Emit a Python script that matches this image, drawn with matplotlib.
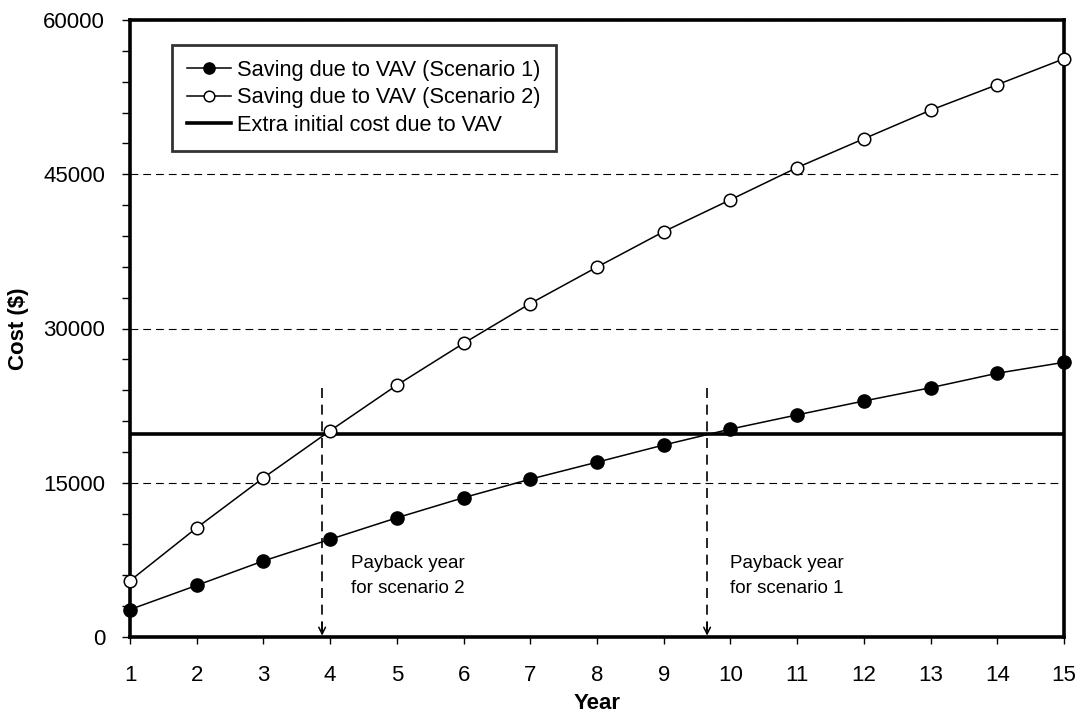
import matplotlib
matplotlib.use("Agg")
import matplotlib.pyplot as plt
from matplotlib.ticker import MultipleLocator

plt.rcParams['font.family'] = ['Liberation Sans', 'DejaVu Sans']

years = list(range(1, 16))
saving_s1 = [2670, 5020, 7400, 9500, 11590, 13550, 15350, 17000,
             18670, 20220, 21600, 22950, 24240, 25650, 26710]
saving_s2 = [5470, 10620, 15480, 20060, 24490, 28560, 32430, 35970,
             39420, 42520, 45650, 48450, 51230, 53710, 56230]
extra_cost = 19730
payback_s2 = 3.88
payback_s1 = 9.65
arrow_top = 24200

fig = plt.figure(figsize=(10.75, 7.15), dpi=100)
ax = fig.add_axes([130 / 1075, 1 - 637 / 715, (1064 - 130) / 1075, (637 - 20) / 715])

ax.plot(years, saving_s1, color='black', lw=1.1, marker='o', ms=9.5,
        mfc='black', mec='black', label='Saving due to VAV (Scenario 1)',
        clip_on=False, zorder=4)
ax.plot(years, saving_s2, color='black', lw=1.1, marker='o', ms=9,
        mfc='white', mec='black', mew=1.1, label='Saving due to VAV (Scenario 2)',
        clip_on=False, zorder=4)
ax.axhline(extra_cost, color='black', lw=2.6, label='Extra initial cost due to VAV', zorder=3)

# Payback markers: dashed drop lines ending in a small open arrow head
for xp in (payback_s2, payback_s1):
    ax.plot([xp, xp], [arrow_top, 600], color='black', lw=1.2,
            linestyle=(0, (6, 4)), zorder=2)
    ax.annotate('', xy=(xp, 0), xytext=(xp, 1400),
                arrowprops=dict(arrowstyle='->', color='black', lw=1.1,
                                shrinkA=0, shrinkB=1, mutation_scale=12),
                zorder=2)

ax.text(4.31, 7150, 'Payback year', fontsize=13.5, va='center', ha='left')
ax.text(4.31, 4750, 'for scenario 2', fontsize=13.5, va='center', ha='left')
ax.text(9.99, 7150, 'Payback year', fontsize=13.5, va='center', ha='left')
ax.text(9.99, 4750, 'for scenario 1', fontsize=13.5, va='center', ha='left')

ax.set_xlim(1, 15)
ax.set_ylim(0, 60000)
ax.set_xticks(years)
ax.yaxis.set_major_locator(MultipleLocator(15000))
ax.yaxis.set_minor_locator(MultipleLocator(3000))
ax.tick_params(axis='both', which='major', labelsize=16, direction='out',
               width=1, color='black')
ax.tick_params(axis='y', which='both', direction='out', width=1, length=6)
ax.tick_params(axis='x', length=5, pad=15)
ax.tick_params(axis='y', pad=12)

ax.grid(axis='y', which='major', color='black', lw=0.8, linestyle=(0, (7, 4.5)))
ax.set_axisbelow(True)

for sp in ax.spines.values():
    sp.set_linewidth(2.6)
    sp.set_color('black')

ax.set_xlabel('Year', fontsize=16, fontweight='bold', labelpad=5)
ax.set_ylabel('Cost ($)', fontsize=16, fontweight='bold', labelpad=10)

leg = ax.legend(loc='upper left', bbox_to_anchor=(0.045, 0.96), fontsize=15.7,
                frameon=True, fancybox=False, edgecolor='black',
                handlelength=2.0, handletextpad=0.3, borderpad=0.7,
                labelspacing=0.3, borderaxespad=0, markerscale=0.85)
leg.get_frame().set_linewidth(2.0)
leg.set_zorder(5)

fig.savefig('out.png', dpi=100)
